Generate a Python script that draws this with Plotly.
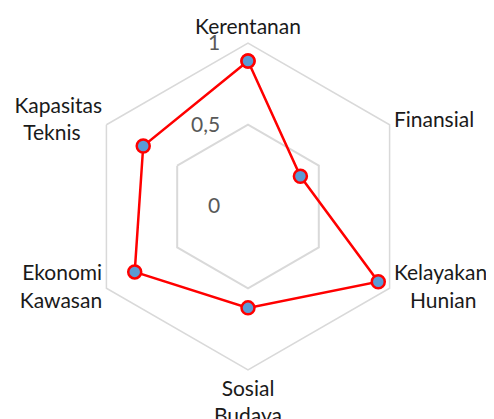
import plotly.graph_objects as go

NB = "\u00a0"
categories = ["Kerentanan", "Finansial",
              "Kelayakan<br>" + NB * 3 + "Hunian" + "<br>" + NB + "<br>" + NB + "<br>" + NB,
              "Sosial<br>Budaya",
              "Ekonomi<br>Kawasan" + "<br>" + NB + "<br>" + NB + "<br>" + NB,
              NB + "<br>Kapasitas<br>Teknis" + NB * 4]
values = [0.89, 0.37, 0.92, 0.62, 0.80, 0.74]
tick_vals = [0, 0.5, 1]
tick_text = ["0", "0,5", "1"]

fig = go.Figure()
fig.add_trace(go.Scatterpolar(
    r=values + values[:1],
    theta=categories + categories[:1],
    mode="lines+markers",
    line=dict(color="#ff0000", width=2.5),
    marker=dict(size=13, color="#5b9bd5", line=dict(color="#ff0000", width=2.5)),
    showlegend=False,
))

fig.update_layout(
    width=494, height=419,
    margin=dict(l=76, r=90, t=34.5, b=56.5),
    paper_bgcolor="white",
    font=dict(family="Lato", size=21, color="#1a1a1a"),
    polar=dict(
        bgcolor="white",
        gridshape="linear",
        angularaxis=dict(
            direction="clockwise", rotation=90,
            showgrid=False, showline=True, linecolor="#d9d9d9", linewidth=1.5,
            ticks="", tickfont=dict(family="Lato", size=21, color="#1a1a1a"),
        ),
        radialaxis=dict(
            range=[0, 1], angle=90, tickangle=90,
            tickvals=tick_vals, ticktext=tick_text,
            showline=False, ticks="outside", ticklen=20, tickcolor="rgba(0,0,0,0)",
            showgrid=True, gridcolor="#d9d9d9", gridwidth=1.5,
            tickfont=dict(family="Lato", size=21, color="#595959"),
            side="counterclockwise",
        ),
    ),
)
fig.write_html("out.html")
